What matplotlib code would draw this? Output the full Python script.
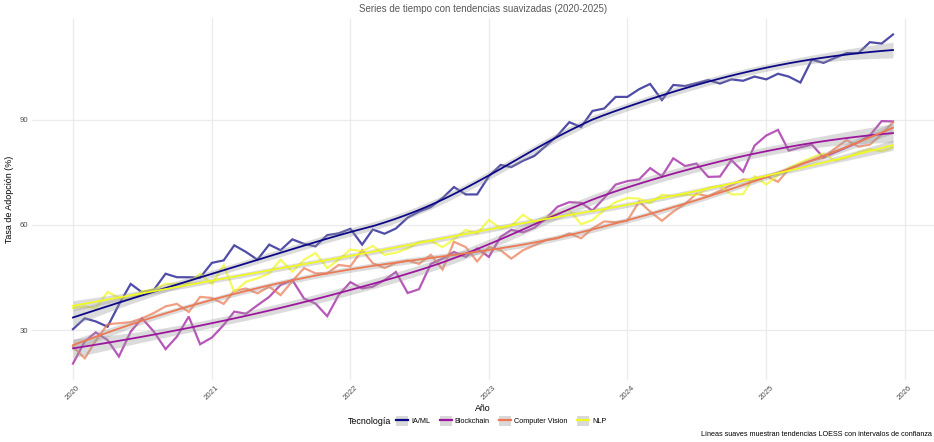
import numpy as np
import pandas as pd
import matplotlib
matplotlib.use("Agg")
import matplotlib.pyplot as plt
import matplotlib.dates as mdates
from matplotlib.patches import Patch
from matplotlib.lines import Line2D
from matplotlib.legend_handler import HandlerTuple

plt.rcParams["font.family"] = ["Liberation Sans", "DejaVu Sans"]

# Monthly adoption rates (%), Jan 2020 - Dec 2025
fechas = pd.date_range("2020-01-01", periods=72, freq="MS")

ia_ml = [30.3, 33.4, 32.5, 31.0, 37.3, 43.2, 40.8, 41.5, 46.1, 45.1, 45.1, 45.0,
         49.2, 49.9, 54.2, 52.3, 50.1, 54.4, 52.8, 55.9, 54.6, 53.9, 57.1, 57.6,
         58.9, 54.4, 58.7, 57.5, 59.0, 62.1, 63.8, 65.1, 67.7, 70.8, 68.7, 68.7,
         73.9, 77.1, 76.5, 78.3, 79.7, 82.6, 85.5, 89.3, 87.9, 92.5, 93.2, 96.5,
         96.5, 98.7, 100.2, 95.6, 99.9, 99.6, 100.4, 101.3, 100.3, 101.5, 101.1, 102.3,
         101.5, 103.1, 102.3, 100.6, 107.1, 106.2, 107.6, 109.0, 109.0, 112.1, 111.7, 114.3]

blockchain = [20.5, 26.8, 29.4, 27.2, 22.5, 29.6, 33.4, 29.6, 24.6, 28.2, 33.9, 26.0,
              27.9, 31.5, 35.3, 34.7, 37.1, 39.5, 42.9, 44.3, 39.0, 37.6, 34.0, 40.0,
              43.7, 41.9, 42.4, 44.3, 46.6, 40.6, 41.7, 48.9, 50.4, 52.3, 50.9, 53.3,
              50.9, 56.6, 58.6, 57.9, 59.2, 61.9, 65.2, 66.5, 66.3, 64.1, 67.7, 71.5,
              72.5, 73.0, 76.2, 73.9, 79.0, 76.8, 77.5, 73.7, 73.8, 78.5, 75.2, 82.6,
              85.5, 87.1, 81.2, 82.1, 82.9, 79.2, 80.7, 82.1, 83.6, 85.5, 89.6, 89.5]

computer_vision = [25.3, 22.0, 27.0, 31.7, 32.0, 32.3, 33.4, 34.9, 36.8, 37.5, 35.2, 39.5,
                   39.2, 37.5, 41.2, 41.9, 40.5, 42.4, 40.0, 44.0, 47.7, 46.2, 46.2, 48.6,
                   48.2, 52.8, 49.1, 47.7, 49.2, 49.9, 48.9, 51.5, 47.3, 55.2, 53.7, 49.6,
                   53.7, 52.8, 50.4, 52.8, 54.2, 55.7, 56.2, 57.6, 56.2, 59.0, 61.0, 60.8,
                   61.2, 66.7, 63.8, 61.2, 63.8, 66.0, 68.9, 68.2, 69.8, 71.3, 73.0, 72.5,
                   73.9, 72.3, 75.9, 77.3, 78.3, 79.2, 81.8, 84.2, 82.3, 82.9, 85.8, 89.3]

nlp = [36.3, 36.8, 36.3, 40.9, 39.2, 38.7, 41.1, 41.6, 43.2, 43.2, 43.5, 46.1,
       43.2, 48.5, 40.9, 43.8, 44.8, 46.2, 50.1, 46.7, 50.1, 52.0, 47.7, 50.1,
       53.0, 52.5, 54.0, 51.5, 52.1, 53.3, 55.2, 55.4, 53.7, 55.9, 58.6, 57.6,
       61.4, 59.0, 59.8, 62.9, 60.7, 62.1, 63.2, 64.3, 60.2, 61.4, 64.3, 66.5,
       67.7, 67.5, 66.2, 68.6, 68.2, 68.6, 68.5, 70.6, 71.1, 68.7, 68.8, 73.9,
       71.5, 74.2, 76.3, 77.8, 79.2, 80.4, 78.3, 79.2, 80.7, 81.6, 81.0, 82.1]

tecnologias = ["IA/ML", "Blockchain", "Computer Vision", "NLP"]
series = [ia_ml, blockchain, computer_vision, nlp]
colores = ["#0D0887", "#9C179E", "#ED7953", "#F0F921"]


def loess(x, y, xg, span=0.75):
    """Local quadratic regression with tricube weights and pointwise SE."""
    n = len(x)
    q = int(np.floor(span * n))

    def rows(pts):
        L = np.zeros((len(pts), n))
        for i, x0 in enumerate(pts):
            d = np.abs(x - x0)
            h = np.sort(d)[q - 1]
            w = np.clip(1 - (d / h) ** 3, 0, None) ** 3
            X = np.column_stack([np.ones(n), x - x0, (x - x0) ** 2])
            XtW = X.T * w
            L[i] = np.linalg.solve(XtW @ X, XtW)[0]
        return L

    Ld = rows(x)
    res = y - Ld @ y
    I = np.eye(n)
    R = (I - Ld).T @ (I - Ld)
    d1 = np.trace(R)
    d2 = np.trace(R @ R)
    sigma = np.sqrt(np.sum(res ** 2) / d1)
    Lg = rows(xg)
    fit = Lg @ y
    se = sigma * np.sqrt(np.sum(Lg ** 2, axis=1))
    df = d1 ** 2 / d2
    tq = 1.96 + 2.4 / df
    return fit, fit - tq * se, fit + tq * se


xnum = mdates.date2num(fechas.to_pydatetime())
xg = np.linspace(xnum[0], xnum[-1], 80)

fig = plt.figure(figsize=(9.34, 4.42), dpi=100)
ax = fig.add_axes([32 / 934, 1 - 380 / 442, 902 / 934, 362 / 442])

ymins, ymaxs = [], []
for vals, c in zip(series, colores):
    ax.plot(fechas, vals, color=c, lw=1.6, alpha=0.72, zorder=2, solid_joinstyle="miter")
    ymins.append(min(vals)); ymaxs.append(max(vals))

for vals, c in zip(series, colores):
    fit, lo, hi = loess(xnum, np.asarray(vals, float), xg)
    ax.fill_between(mdates.num2date(xg), lo, hi, color="#999999", alpha=0.35, lw=0, zorder=3)
    ax.plot(mdates.num2date(xg), fit, color=c, lw=1.3, zorder=4)
    ymins.append(lo.min()); ymaxs.append(hi.max())

ylo, yhi = min(ymins), max(ymaxs)
pad = 0.05 * (yhi - ylo)
ax.set_ylim(ylo - pad, yhi + pad)
xpad = 0.05 * (xnum[-1] - xnum[0])
ax.set_xlim(xnum[0] - xpad, xnum[-1] + xpad)

ax.set_yticks([30, 60, 90])
ax.xaxis.set_major_locator(mdates.YearLocator())
ax.xaxis.set_major_formatter(mdates.DateFormatter("%Y"))
ax.grid(True, color="#ebebeb", lw=0.9)
ax.set_axisbelow(True)
for s in ax.spines.values():
    s.set_visible(False)
ax.tick_params(length=0, labelsize=5.6, colors="#4d4d4d", pad=3)
plt.setp(ax.get_xticklabels(), rotation=45, ha="center")

ax.set_xlabel("Año", fontsize=6.4, labelpad=2)
ax.set_ylabel("Tasa de Adopción (%)", fontsize=6.4, labelpad=4)
ax.set_title("Series de tiempo con tendencias suavizadas (2020-2025)",
             fontsize=7, color="#595959", pad=4)

handles = [(Patch(facecolor="#d9d9d9", edgecolor="none"),
            Line2D([], [], color=c, lw=1.6)) for c in colores]
fig.text(348 / 934, 1 - 421 / 442, "Tecnología", fontsize=6.4, va="center", ha="left")
fig.legend(handles, tecnologias, handler_map={tuple: HandlerTuple(ndivide=1)},
           loc="center left", bbox_to_anchor=(396 / 934, 1 - 421 / 442),
           ncol=4, frameon=False, fontsize=5.2, handlelength=1.7, handleheight=1.7,
           handletextpad=0.4, columnspacing=1.3, borderpad=0, borderaxespad=0)

fig.text(0.998, 1 - 435 / 442,
         "Líneas suaves muestran tendencias LOESS con intervalos de confianza",
         fontsize=5.2, ha="right", va="center")

fig.savefig("out.png", dpi=100, facecolor="white")
